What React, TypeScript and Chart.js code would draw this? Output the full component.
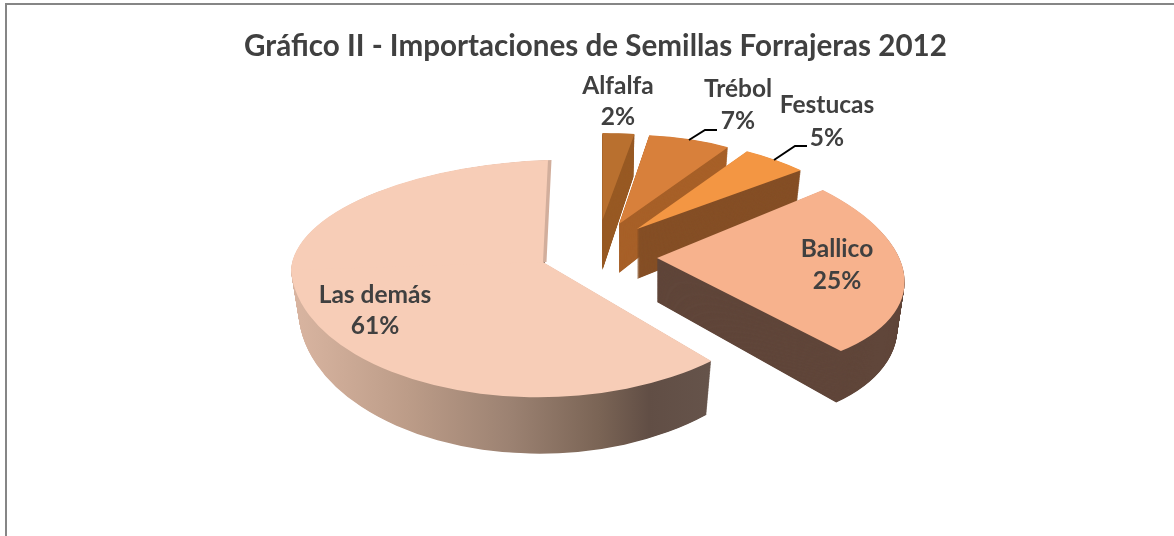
import React, { useEffect, useRef } from "react";
import { Chart, registerables } from "chart.js";

Chart.register(...registerables);

const categories = ["Alfalfa", "Trébol", "Festucas", "Ballico", "Las demás"];
const shares = [2, 7, 5, 25, 61];
const topColors = ["#B9702F", "#D8803B", "#F39643", "#F7B28D", "#F7CDB7"];
const wallColors = ["#985A24", "#A76028", "#854F26", "#60463A", "#6A564B"];
const chartTitle = "Gráfico II - Importaciones de Semillas Forrajeras 2012";

const HUB = { x: 595, y: 257 };
// pie projection per slice: displacement from the hub, ellipse shape, extrusion
type Piece = { rx: number; k: number; l: number; ry: number };
type Geo = { ex: number; ey: number; depth: number; upper: Piece; lower: Piece };
const piece = (rx: number, k: number, l: number, ry: number): Piece => ({ rx, k, l, ry });
const sliceGeometry: Geo[] = [
  { ex: 7.5, ey: -37, depth: 50, upper: piece(255, 0, 3, 87), lower: piece(255, 0, 3, 87) },
  { ex: 24, ey: -33, depth: 49, upper: piece(194, -6, -3, 89), lower: piece(194, -6, -3, 89) },
  { ex: 42, ey: -28, depth: 50, upper: piece(221, 10, 0, 92), lower: piece(221, 10, 0, 92) },
  { ex: 62, ey: 1, depth: 44, upper: piece(245, 36, 7, 115), lower: piece(245, 36, 7, 115) },
  { ex: -52, ey: 5, depth: 45, upper: piece(252, -5, -8, 102), lower: piece(252, 10, -8, 135) },
];
const RX_SHRINK = 0.03;
const RY_GROW = 0.085;

const wallGradientStops: [number, string][] = [
  [295, "#D8B4A0"],
  [400, "#BC9C88"],
  [500, "#9C8272"],
  [590, "#7A6455"],
  [640, "#614E45"],
  [711, "#66544B"],
];

const labelPlaces = [
  { x: 618, y: 86, gap: 31 },
  { x: 738, y: 89, gap: 32 },
  { x: 827, y: 105, gap: 33 },
  { x: 837, y: 249, gap: 32 },
  { x: 375, y: 295, gap: 31 },
];
const leaders: number[][][] = [
  [[689, 140], [705, 130], [717, 130]],
  [[774, 160], [795, 146], [807, 146]],
];

function drawPiece(ctx: any, arc: any, g: Geo, p: Piece, clipTo: "upper" | "lower" | "none", t: number, shiftX: number, fill: (rx: number) => any) {
  const r = arc.outerRadius;
  const rx = p.rx * (1 - RX_SHRINK * t);
  const ry = p.ry * (1 + RY_GROW * t);
  ctx.save();
  ctx.transform(
    rx / r,
    p.l / r,
    p.k / r,
    ry / r,
    HUB.x + g.ex + shiftX,
    HUB.y + g.ey + g.depth * t
  );
  ctx.translate(-arc.x, -arc.y);
  if (clipTo !== "none") {
    ctx.beginPath();
    if (clipTo === "upper") ctx.rect(arc.x - r - 5, arc.y - r - 5, 2 * r + 10, r + 5);
    else ctx.rect(arc.x - r - 5, arc.y - 1.5, 2 * r + 10, r + 6.5);
    ctx.clip();
  }
  const saved = arc.options;
  arc.options = Object.assign(Object.create(saved), { backgroundColor: fill(rx), borderWidth: 0 });
  arc.draw(ctx);
  arc.options = saved;
  ctx.restore();
}

const pie3d = {
  id: "pie3d",
  beforeDraw(chart: any) {
    const { ctx, width, height } = chart;
    ctx.save();
    ctx.fillStyle = "#FFFFFF";
    ctx.fillRect(0, 0, width, height);
    ctx.fillStyle = "#868686";
    ctx.fillRect(5, 3, width - 5, 2);
    ctx.fillRect(5, 3, 2, height - 3);
    ctx.restore();
  },
  beforeDatasetsDraw(chart: any) {
    const { ctx } = chart;
    const arcs = chart.getDatasetMeta(0).data;
    arcs.forEach((arc: any, i: number) => {
      const g = sliceGeometry[i];
      const r = arc.outerRadius;
      const anchorX = HUB.x + g.ex;
      const twoPiece = g.upper !== g.lower && g.upper.ry !== g.lower.ry;
      const wallFill = (rx: number) => {
        if (i !== 4) return wallColors[i];
        const toLocal = (px: number) => arc.x + ((px - anchorX) * r) / rx;
        const grad = ctx.createLinearGradient(toLocal(295), 0, toLocal(711), 0);
        wallGradientStops.forEach(([px, c]) => grad.addColorStop((px - 295) / (711 - 295), c));
        return grad;
      };
      const paint = (t: number, fill: (rx: number) => any) => {
        if (twoPiece) {
          drawPiece(ctx, arc, g, g.lower, "lower", t, 0, fill);
          drawPiece(ctx, arc, g, g.upper, "upper", t, 0, fill);
        } else {
          drawPiece(ctx, arc, g, g.upper, "none", t, 0, fill);
        }
      };
      for (let d = g.depth * 2; d > 0; d--) {
        paint(d / (g.depth * 2), wallFill);
      }
      if (i === 4) {
        drawPiece(ctx, arc, g, g.upper, "upper", 0, 3.5, () => "#D2AE9C");
      }
      paint(0, () => topColors[i]);
    });
    return false;
  },
  afterDraw(chart: any) {
    const { ctx } = chart;
    ctx.save();
    ctx.strokeStyle = "#000000";
    ctx.lineWidth = 2;
    leaders.forEach((pts) => {
      ctx.beginPath();
      pts.forEach(([x, y], j) => (j ? ctx.lineTo(x, y) : ctx.moveTo(x, y)));
      ctx.stroke();
    });
    ctx.fillStyle = "#404040";
    ctx.font = "bold 24.5px Lato";
    ctx.textAlign = "center";
    ctx.textBaseline = "middle";
    categories.forEach((name, i) => {
      const p = labelPlaces[i];
      ctx.fillText(name, p.x, p.y);
      ctx.fillText(`${shares[i]}%`, p.x, p.y + p.gap);
    });
    ctx.restore();
  },
};

export default function App() {
  const ref = useRef<HTMLCanvasElement>(null);
  useEffect(() => {
    const chart = new Chart(ref.current as HTMLCanvasElement, {
      type: "pie",
      data: {
        labels: categories,
        datasets: [{ data: shares, backgroundColor: topColors, borderWidth: 0 }],
      },
      options: {
        responsive: false,
        animation: false,
        layout: { padding: { left: 17 } },
        plugins: {
          legend: { display: false },
          tooltip: { enabled: false },
          title: {
            display: true,
            text: chartTitle,
            color: "#404040",
            font: { family: "Lato", size: 29.6, weight: "bold" },
            padding: { top: 29, bottom: 10 },
          },
        },
      },
      plugins: [pie3d],
    } as any);
    return () => chart.destroy();
  }, []);
  return (
    <canvas
      ref={ref}
      width={1174}
      height={536}
      style={{ position: "absolute", left: 0, top: 0, display: "block" }}
    />
  );
}
